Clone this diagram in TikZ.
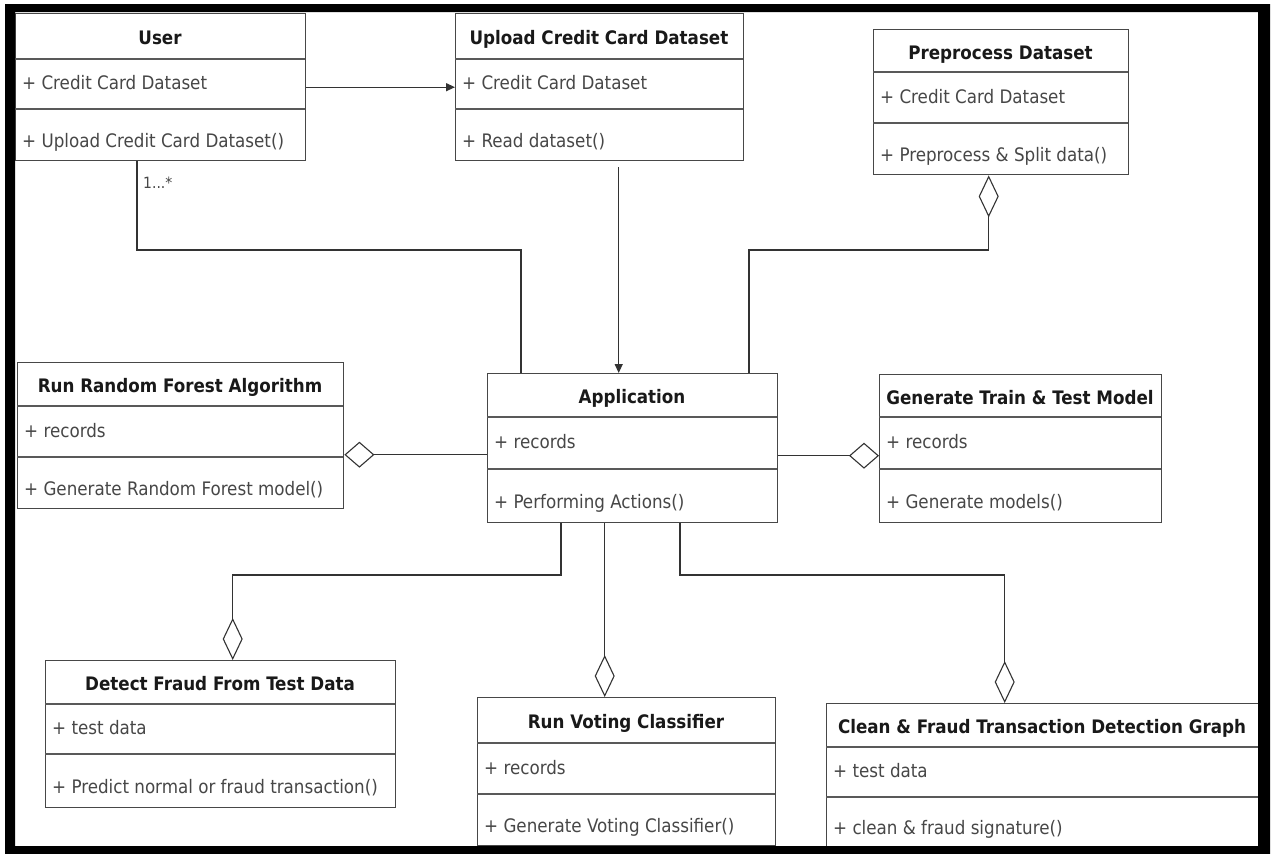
\documentclass[tikz,border=0pt]{standalone}
\usepackage{fontspec}
\setmainfont{DejaVu Sans Condensed}
\usetikzlibrary{arrows.meta,calc}

\tikzset{
  umlbox/.style={draw=black!72, line width=1.4pt, fill=white, inner sep=0pt, anchor=north west},
  sepline/.style={draw=black!65, line width=1.6pt},
  titletext/.style={font=\fontsize{18.6}{20}\selectfont\bfseries, text=black!90, inner sep=0pt, anchor=mid},
  membertext/.style={font=\fontsize{18.6}{20}\selectfont, text=black!72, inner sep=0pt, anchor=mid west},
  conn/.style={draw=black!80, line width=1.3pt},
  flow/.style={conn, -{Triangle[length=9pt,width=8pt]}},
  aggrv/.style={conn, {Diamond[open,length=42pt,width=20pt,line width=1.1pt]}-},
  aggrh/.style={conn, {Diamond[open,length=30pt,width=26pt,line width=1.1pt]}-},
}

% class box: name, left, top, right, first separator, second separator, bottom
\newcommand\umlclass[7]{%
  \node[umlbox, minimum width={(#4)-(#2)}, minimum height={(#7)-(#3)}] (#1) at (#2,#3) {};
  \draw[sepline] (#2,#5) -- (#4,#5);
  \draw[sepline] (#2,#6) -- (#4,#6);
  \xdef\ucname{#1}\xdef\ucL{#2}\xdef\ucT{#3}\xdef\ucR{#4}%
  \xdef\ucA{#5}\xdef\ucB{#6}\xdef\ucZ{#7}%
}
% texts of the last class box: title, attribute, operation
\newcommand\umltexts[3]{%
  \node[titletext] (\ucname-t) at ({(\ucL+\ucR)/2},{(\ucT+\ucA)/2+6}) {#1};
  \node[membertext] (\ucname-a) at ({\ucL+7},{(\ucA+\ucB)/2+3}) {#2};
  \node[membertext] (\ucname-m) at ({\ucL+7},{(\ucB+\ucZ)/2+10}) {#3};
}

\begin{document}
\begin{tikzpicture}[x=1pt,y=-1pt]
\useasboundingbox (0,0) rectangle (1272,854);
\fill[white] (0,0) rectangle (1272,854);

% classes
\umlclass{user}{15}{13}{305}{59}{109}{160}
\umltexts{User}{+ Credit Card Dataset}{+ Upload Credit Card Dataset()}

\umlclass{upload}{455}{13}{743}{59}{109}{160}
\umltexts{Upload Credit Card Dataset}{+ Credit Card Dataset}{+ Read dataset()}

\umlclass{pre}{873}{29}{1128}{72}{123}{174}
\umltexts{Preprocess Dataset}{+ Credit Card Dataset}{+ Preprocess \& Split data()}

\umlclass{rf}{17}{362}{343}{406}{457}{508}
\umltexts{Run Random Forest Algorithm}{+ records}{+ Generate Random Forest model()}

\umlclass{app}{487}{373}{777}{417}{469}{522}
\umltexts{Application}{+ records}{+ Performing Actions()}

\umlclass{gen}{879}{374}{1161}{417}{469}{522}
\umltexts{Generate Train \& Test Model}{+ records}{+ Generate models()}

\umlclass{det}{45}{660}{395}{704}{754}{807}
\umltexts{Detect Fraud From Test Data}{+ test data}{+ Predict normal or fraud transaction()}

\umlclass{vote}{477}{697}{775}{743}{794}{845}
\umltexts{Run Voting Classifier}{+ records}{+ Generate Voting Classifier()}

\umlclass{clean}{826}{703}{1258}{747}{797}{846}
\umltexts{Clean \& Fraud Transaction Detection Graph}{+ test data}{+ clean \& fraud signature()}

% bend points of the connectors
\coordinate (b1) at (521,250);
\coordinate (b2) at (749,250);
\coordinate (b3) at (561,575);
\coordinate (b4) at (680,575);

% user -> upload
\draw[flow] (user.east) -- (upload.west);
% upload -> application
\coordinate (up1) at ([xshift=19pt,yshift=-6pt]upload.south);
\draw[flow] (up1) -- (up1 |- app.north);
% user -- application
\coordinate (us1) at ([xshift=122pt]user.south west);
\draw[conn] (us1) |- (b1) -- (b1 |- app.north);
\node[membertext, font=\fontsize{15.5}{17}\selectfont] (mult) at ([xshift=6pt,yshift=-24pt]us1) {1...*};
% preprocess <>-- application
\coordinate (pr1) at ([xshift=-12.5pt]pre.south);
\draw[aggrv] (pr1) |- (b2) -- (b2 |- app.north);
% random forest <>-- application
\coordinate (rf1) at ([yshift=-19pt]rf.east);
\draw[aggrh] (rf1) -- (rf1 -| app.west);
% train & test <>-- application
\coordinate (gn1) at ([yshift=-7pt]gen.west);
\draw[aggrh] (gn1) -- (gn1 -| app.east);
% detect fraud <>-- application
\coordinate (dt1) at ([xshift=12pt]det.north);
\draw[aggrv] (dt1) |- (b3) -- (b3 |- app.south);
% voting <>-- application
\coordinate (vt1) at ([xshift=-22pt]vote.north);
\draw[aggrv] (vt1) -- (vt1 |- app.south);
% graph <>-- application
\coordinate (cl1) at ([xshift=-38pt]clean.north);
\draw[aggrv] (cl1) |- (b4) -- (b4 |- app.south);

% outer frame
\fill[black, even odd rule] (5,4) rectangle (1270,854) (15,12) rectangle (1258,846);
\end{tikzpicture}
\end{document}
